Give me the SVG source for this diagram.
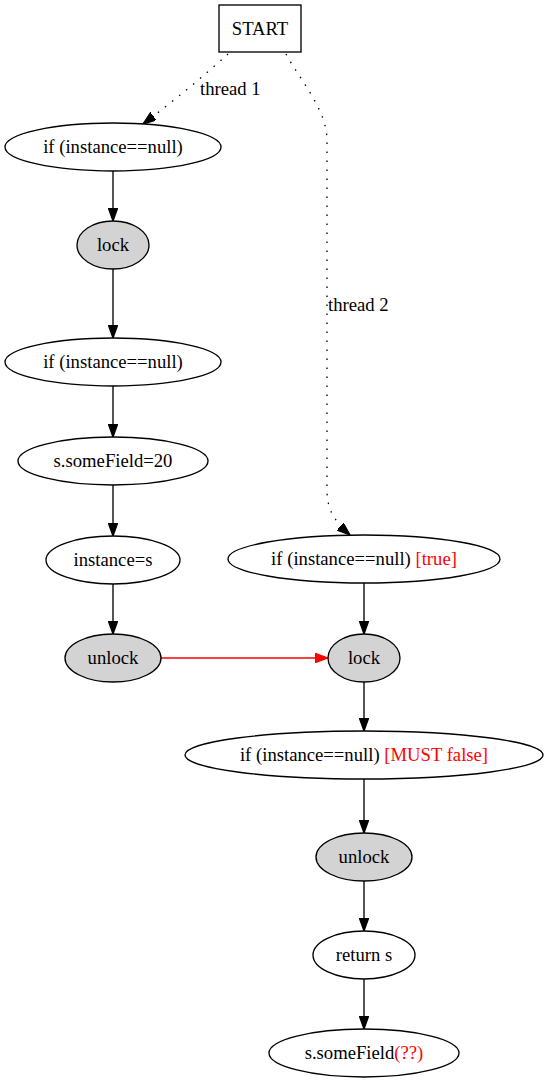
<svg xmlns="http://www.w3.org/2000/svg" width="548" height="1083" viewBox="0 0 548 1083">
<style>
text{font-family:"Liberation Serif","Times New Roman",serif;font-size:18.67px;fill:#000;text-anchor:middle}
.n{fill:#fff;stroke:#000;stroke-width:1.33}
.g{fill:#d3d3d3;stroke:#000;stroke-width:1.33}
.e{fill:none;stroke:#000;stroke-width:1.33}
.d{fill:none;stroke:#000;stroke-width:1.33;stroke-dasharray:1.5,7.5}
.r{fill:none;stroke:#f00;stroke-width:1.33}
.red{fill:#f00}
.lbl{text-anchor:start}
</style>
<defs>
<marker id="a" markerWidth="14" markerHeight="10" refX="13" refY="4.67" orient="auto" markerUnits="userSpaceOnUse"><path d="M0,0L13,4.67L0,9.33Z" fill="#000" stroke="#000" stroke-width="1.33"/></marker>
<marker id="ar" markerWidth="14" markerHeight="10" refX="13" refY="4.67" orient="auto" markerUnits="userSpaceOnUse"><path d="M0,0L13,4.67L0,9.33Z" fill="#f00" stroke="#f00" stroke-width="1.33"/></marker>
</defs>
<g id="edges">
<path class="d" d="M228,54 C205,75 175,100 143,124" marker-end="url(#a)"/>
<text class="lbl" x="200" y="95">thread 1</text>
<path class="d" d="M286,54 C300,80 327,110 327,140 L327,490 C327,510 335,522 350,535" marker-end="url(#a)"/>
<text class="lbl" x="328" y="311">thread 2</text>
<path class="e" d="M113,171 L113,221" marker-end="url(#a)"/>
<path class="e" d="M113,269 L113,338" marker-end="url(#a)"/>
<path class="e" d="M113,386 L113,437" marker-end="url(#a)"/>
<path class="e" d="M113,485 L113,536" marker-end="url(#a)"/>
<path class="e" d="M113,584 L113,634" marker-end="url(#a)"/>
<path class="r" d="M161,658 L328,658" marker-end="url(#ar)"/>
<path class="e" d="M364,583 L364,634" marker-end="url(#a)"/>
<path class="e" d="M364,682 L364,731" marker-end="url(#a)"/>
<path class="e" d="M364,779 L364,833" marker-end="url(#a)"/>
<path class="e" d="M364,881 L364,931" marker-end="url(#a)"/>
<path class="e" d="M364,979 L364,1029" marker-end="url(#a)"/>
</g>
<g id="start"><rect class="n" x="219" y="5" width="82" height="47"/><text x="260" y="35">START</text></g>
<g id="if1"><ellipse class="n" cx="113" cy="147" rx="108" ry="24"/><text x="113" y="153">if (instance==null)</text></g>
<g id="lock1"><ellipse class="g" cx="113" cy="245" rx="36" ry="24"/><text x="113" y="251">lock</text></g>
<g id="if2"><ellipse class="n" cx="113" cy="362" rx="108" ry="24"/><text x="113" y="368">if (instance==null)</text></g>
<g id="setfield"><ellipse class="n" cx="113" cy="461" rx="95" ry="24"/><text x="113" y="467">s.someField=20</text></g>
<g id="assign"><ellipse class="n" cx="113" cy="560" rx="67" ry="24"/><text x="113" y="566">instance=s</text></g>
<g id="unlock1"><ellipse class="g" cx="113" cy="658" rx="48" ry="24"/><text x="113" y="664">unlock</text></g>
<g id="if3"><ellipse class="n" cx="364" cy="559" rx="136" ry="24"/><text x="364" y="565">if (instance==null) <tspan class="red">[true]</tspan></text></g>
<g id="lock2"><ellipse class="g" cx="364" cy="658" rx="36" ry="24"/><text x="364" y="664">lock</text></g>
<g id="if4"><ellipse class="n" cx="364" cy="755" rx="179" ry="24"/><text x="364" y="761">if (instance==null) <tspan class="red">[MUST false]</tspan></text></g>
<g id="unlock2"><ellipse class="g" cx="364" cy="857" rx="48" ry="24"/><text x="364" y="863">unlock</text></g>
<g id="ret"><ellipse class="n" cx="364" cy="955" rx="51" ry="24"/><text x="364" y="961">return s</text></g>
<g id="use"><ellipse class="n" cx="364" cy="1053" rx="95" ry="24"/><text x="364" y="1059">s.someField<tspan class="red">(??)</tspan></text></g>
</svg>
